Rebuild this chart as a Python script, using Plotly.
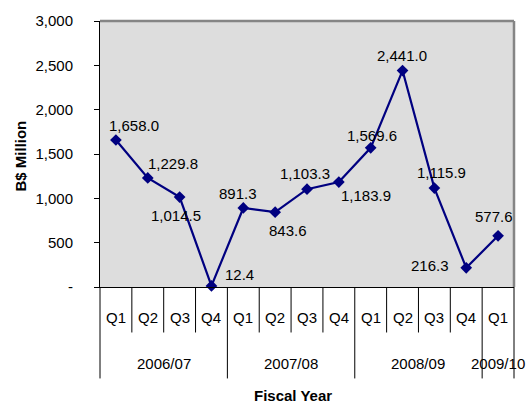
import plotly.graph_objects as go

# Quarterly values, B$ million
quarters = ["Q1", "Q2", "Q3", "Q4", "Q1", "Q2", "Q3", "Q4", "Q1", "Q2", "Q3", "Q4", "Q1"]
fiscal_years = ["2006/07", "2007/08", "2008/09", "2009/10"]
quarters_per_year = [4, 4, 4, 1]
values = [1658.0, 1229.8, 1014.5, 12.4, 891.3, 843.6, 1103.3, 1183.9, 1569.6, 2441.0, 1115.9, 216.3, 577.6]

y_tick_vals = [0, 500, 1000, 1500, 2000, 2500, 3000]
y_tick_text = ["-", "500", "1,000", "1,500", "2,000", "2,500", "3,000"]

# pixel offsets of each value label relative to its point (right, down)
label_offsets = [(18, -14), (25, -14), (-4, 18), (28, -11), (-5, -14), (13, 18), (-2, -16),
                 (27, 13), (1, -12), (-1, -15), (7, -16), (-36, -2), (-4, -19)]

FONT = "Liberation Sans, Arial, sans-serif"
NAVY = "#000080"

x_idx = list(range(len(values)))
n = len(values)

fig = go.Figure()
fig.add_trace(go.Scatter(
    x=x_idx, y=values, mode="lines+markers",
    line=dict(color=NAVY, width=2.2),
    marker=dict(symbol="diamond", size=9, color=NAVY),
    hoverinfo="skip", showlegend=False, cliponaxis=False,
))

annotations = []
for i, v in enumerate(values):
    dx, dy = label_offsets[i]
    annotations.append(dict(x=i, y=v, xref="x", yref="y", text=f"{v:,.1f}",
                            showarrow=False, xshift=dx, yshift=-dy,
                            font=dict(family=FONT, size=15, color="black")))

# quarter labels
for i, q in enumerate(quarters):
    annotations.append(dict(x=i, y=-0.1158, xref="x", yref="paper", text=q,
                            showarrow=False, yanchor="middle",
                            font=dict(family=FONT, size=15, color="black")))

# fiscal year labels and group boundaries
shapes = []
start = 0
year_bounds = [-0.5]
for fy, cnt in zip(fiscal_years, quarters_per_year):
    center = start + (cnt - 1) / 2
    annotations.append(dict(x=center, y=-0.2886, xref="x", yref="paper", text=fy,
                            showarrow=False, yanchor="middle",
                            font=dict(family=FONT, size=15, color="black")))
    start += cnt
    year_bounds.append(start - 0.5)

for b in [k - 0.5 for k in range(n + 1)]:
    px = (b + 0.5) / n
    y_end = -0.3438 if b in year_bounds else -0.171
    shapes.append(dict(type="line", xref="paper", yref="paper", x0=px, x1=px, y0=0, y1=y_end,
                       line=dict(color="black", width=1)))

# grey frame on top and right of plot area
shapes.append(dict(type="line", xref="paper", yref="paper", x0=0, x1=1, y0=1, y1=1,
                   line=dict(color="#858585", width=2.5)))
shapes.append(dict(type="line", xref="paper", yref="paper", x0=1, x1=1, y0=0, y1=1,
                   line=dict(color="#858585", width=2.5)))

annotations.append(dict(x=0.4656, y=-0.4063, xref="paper", yref="paper", text="<b>Fiscal Year</b>",
                        showarrow=False, yanchor="middle",
                        font=dict(family=FONT, size=15, color="black")))
annotations.append(dict(x=-0.193, y=0.4908, xref="paper", yref="paper", text="<b>B$ Million</b>",
                        showarrow=False, textangle=-90, xanchor="center", yanchor="middle",
                        font=dict(family=FONT, size=15, color="black")))

fig.update_layout(
    width=528, height=406,
    margin=dict(l=100, r=14, t=15, b=119),
    paper_bgcolor="white", plot_bgcolor="#dddddd",
    font=dict(family=FONT, size=15, color="black"),
    xaxis=dict(range=[-0.5, n - 0.5], showgrid=False, zeroline=False, showticklabels=False,
               ticks="", showline=True, linecolor="black", linewidth=1, fixedrange=True),
    yaxis=dict(range=[0, 3000], tickvals=y_tick_vals, ticktext=y_tick_text, showgrid=False,
               zeroline=False, ticks="outside", ticklen=5, tickcolor="black",
               ticklabelstandoff=18, showline=True, linecolor="black", linewidth=1,
               tickfont=dict(family=FONT, size=15, color="black"), fixedrange=True),
    shapes=shapes, annotations=annotations, showlegend=False,
)

fig.write_html("out.html")
